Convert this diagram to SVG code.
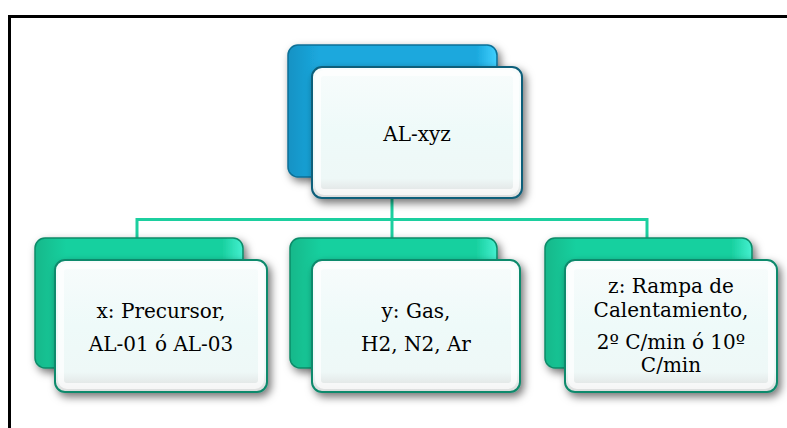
<svg xmlns="http://www.w3.org/2000/svg" width="787" height="428" viewBox="0 0 787 428">
<style>
.frame{fill:none;stroke:#000;stroke-width:3}
.conn{fill:none;stroke:#1ccf9f;stroke-width:3}
.backB{fill:url(#gB);stroke:#0a6f96;stroke-width:1.5}
.backG{fill:url(#gG);stroke:#0c8a68;stroke-width:1.5}
.frontB{fill:url(#gW);stroke:#0b5e7a;stroke-width:2}
.frontG{fill:url(#gW);stroke:#0f8a6c;stroke-width:2}
.bevel{fill:none;stroke:#ffffff;stroke-width:6;stroke-opacity:0.7}
text{font-family:"DejaVu Serif","Liberation Serif",serif;font-size:20px;fill:#000;text-anchor:middle}
</style>
<defs>
<filter id="sh" x="-20%" y="-20%" width="140%" height="140%">
<feDropShadow dx="3" dy="4" stdDeviation="4" flood-color="#000" flood-opacity="0.55"/>
</filter>
<linearGradient id="gB" x1="0" y1="0" x2="1" y2="0">
<stop offset="0" stop-color="#1592c4"/>
<stop offset="0.15" stop-color="#1ba8dd"/>
<stop offset="0.9" stop-color="#1ba8dd"/>
<stop offset="1" stop-color="#3fd0ff"/>
</linearGradient>
<linearGradient id="gG" x1="0" y1="0" x2="1" y2="0">
<stop offset="0" stop-color="#12b88a"/>
<stop offset="0.15" stop-color="#18d09f"/>
<stop offset="0.9" stop-color="#18d09f"/>
<stop offset="1" stop-color="#44f0d0"/>
</linearGradient>
<linearGradient id="gW" x1="0" y1="0" x2="0" y2="1">
<stop offset="0" stop-color="#f8fcfc"/>
<stop offset="0.5" stop-color="#eefaf9"/>
<stop offset="0.85" stop-color="#eef8f7"/>
<stop offset="1" stop-color="#dcdcdc"/>
</linearGradient>
</defs>

<path class="frame" d="M9.5,428 V16.5 H787"/>

<g id="connectors">
<path class="conn" d="M392,198 V240"/>
<path class="conn" d="M137,219.5 H648"/>
<path class="conn" d="M137,218 V238"/>
<path class="conn" d="M647,218 V238"/>
</g>

<g id="top">
<rect class="backB" x="288" y="45" width="209" height="132" rx="10" filter="url(#sh)"/>
<rect class="frontB" x="312" y="67" width="210" height="131" rx="10" filter="url(#sh)"/>
<rect class="bevel" x="318" y="73" width="198" height="119" rx="6"/>
<text x="417" y="141">AL-xyz</text>
</g>

<g id="x">
<rect class="backG" x="35" y="238" width="208" height="130" rx="10" filter="url(#sh)"/>
<rect class="frontG" x="55" y="260" width="212" height="132" rx="10" filter="url(#sh)"/>
<rect class="bevel" x="61" y="266" width="200" height="120" rx="6"/>
<text x="161" y="318">x: Precursor,</text>
<text x="161" y="351">AL-01 ó AL-03</text>
</g>

<g id="y">
<rect class="backG" x="290" y="238" width="207" height="130" rx="10" filter="url(#sh)"/>
<rect class="frontG" x="312" y="260" width="208" height="132" rx="10" filter="url(#sh)"/>
<rect class="bevel" x="318" y="266" width="196" height="120" rx="6"/>
<text x="416" y="318">y: Gas,</text>
<text x="416" y="351">H2, N2, Ar</text>
</g>

<g id="z">
<rect class="backG" x="545" y="238" width="207" height="130" rx="10" filter="url(#sh)"/>
<rect class="frontG" x="565" y="260" width="212" height="132" rx="10" filter="url(#sh)"/>
<rect class="bevel" x="571" y="266" width="200" height="120" rx="6"/>
<text x="671" y="293">z: Rampa de</text>
<text x="671" y="317">Calentamiento,</text>
<text x="671" y="349">2º C/min ó 10º</text>
<text x="671" y="372">C/min</text>
</g>
</svg>
